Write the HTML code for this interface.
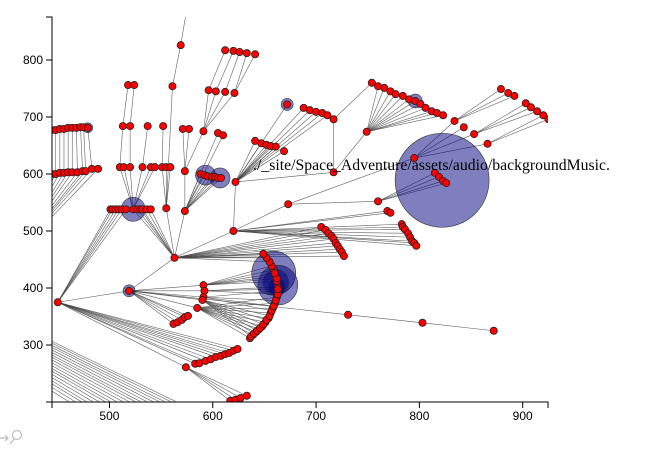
<!DOCTYPE html>
<html><head><meta charset="utf-8"><style>
html,body{margin:0;padding:0;background:#fff;}
svg{display:block;font-family:"Liberation Sans",sans-serif;}
</style></head><body>
<svg id="chart" width="651" height="450" viewBox="0 0 651 450" xmlns="http://www.w3.org/2000/svg">
<defs><clipPath id="plotclip"><rect x="52" y="17" width="496" height="385"/></clipPath></defs>
<g id="plot" clip-path="url(#plotclip)">
<g id="edges"></g>
<g id="bubbles"></g>
<g id="nodes"></g>
</g>
<g id="xaxis"></g>
<g id="yaxis"></g>
<text x="253" y="170" font-family="Liberation Serif, serif" font-size="16" textLength="357" lengthAdjust="spacingAndGlyphs" fill="#000">./_site/Space_Adventure/assets/audio/backgroundMusic.</text>
<g fill="none" stroke="#bbb" stroke-width="1.2">
<path d="M0 438 H8 M5 435 L8 438 L5 441"/>
<circle cx="17" cy="435" r="4.5"/><path d="M14 439 L10 444"/>
</g>
</svg>
<script>
// node data: x value, y value, parent index
const nodeX = [450,519,563,620,622,673,717,717,749,760,795,815,819,823,826,769,772,
754,760,766,772,777,784,790,796,801,806,812,817,823,
834,843,853,866,879,886,892,903,908,914,920,925,
641,647,652,656,661,669,672,688,694,700,706,711,
501,503,506,509,512,516,523,527,530,532,536,540,555,573,
510,514,520,532,540,544,551,555,559,573,
513,520,537,552,571,577,518,524,561,569,578,
591,596,603,612,621,612,620,626,633,641,605,610,
588,592,595,599,602,605,608,
404,
444,448,452,456,460,464,469,474,477,483,489,
444,448,452,456,460,464,468,472,475,479,
591,592,591,590,585,562,566,570,573,576,731,803,872,
574,617,622,627,633,
583,587,593,598,603,608,612,616,620,624,
636,639,642,645,648,651,654,656,658,660,662,663,663,662,661,659,657,655,652,649,
705,709,712,715,717,719,721,723,725,727,
783,784,786,789,791,793,795,797,
104,
520,527,534,540,547,554,561,567,574,581,588,595,601,608,615,622,628,635,641,
637,640,643,646,649,652,655,657,659,661,663,663,662,660];
const nodeY = [375,395,453,500,586,547,603,696,674,552,628,602,595,588,584,535,532,
760,754,751,745,740,737,731,728,723,716,710,707,703,
693,682,670,653,749,742,737,724,717,710,703,696,
658,654,651,649,648,640,722,716,712,709,707,703,
538,538,538,538,538,538,538,538,538,538,538,538,540,535,
612,612,612,612,612,612,612,612,612,605,
684,684,684,684,679,679,756,756,754,826,923,
675,747,745,744,742,817,816,814,812,810,672,668,
600,598,596,595,595,593,593,
449,
600,600,602,602,603,603,603,605,605,609,609,
677,677,679,679,681,681,681,682,682,681,
405,395,384,379,365,337,340,344,349,351,353,339,325,
261,202,204,207,211,
267,268,272,275,279,281,284,286,290,293,
312,318,323,328,333,340,347,356,364,373,384,395,402,412,421,432,439,446,453,460,
507,502,496,491,486,479,474,468,463,456,
512,507,503,496,489,482,479,474,
607,
133,133,133,133,133,133,133,133,133,133,133,133,133,133,133,133,133,133,133,
315,320,325,330,336,344,351,360,368,378,389,398,417,426];
const nodeParent = [-1,0,1,2,3,3,4,6,6,5,5,9,9,9,9,3,3,
7,8,8,8,8,8,8,8,8,8,8,8,8,
10,10,10,10,30,30,30,32,32,32,33,33,
4,4,4,4,4,4,4,4,4,4,4,4,
0,0,0,0,0,0,2,2,2,2,2,2,2,2,
60,60,60,60,60,60,66,66,66,67,
68,70,71,74,77,77,78,79,66,86,87,
77,89,89,89,89,90,91,92,93,93,67,67,
67,67,67,67,67,67,67,
-1,
108,108,108,108,108,108,108,108,108,108,108,
109,110,111,112,113,114,115,116,117,118,
1,1,1,1,1,1,1,1,1,1,1,140,141,
0,143,143,143,143,
0,0,0,0,0,0,0,0,0,0,
134,134,134,134,134,134,134,134,134,134,134,132,131,130,130,130,130,2,2,2,
2,2,2,2,2,2,2,2,2,2,
3,3,3,3,3,3,3,3,
-1,
196,196,196,196,196,196,196,196,196,196,196,196,196,196,196,196,196,196,196,
133,133,133,133,133,133,133,132,132,132,131,131,130,130];
const hiddenNodes = [108,196];
// bubble data: x value, y value, radius (px)
const bubbleX = [822,659,663,593,607,523,519,672,796,479,661,662];
const bubbleY = [589,426,405,598,593,538,395,722,728,681,410,402];
const bubbleR = [47,22,20,10,10,12,6,6,7,5,13,9];
// axis ticks
const xTicks = [500,600,700,800,900];
const yTicks = [300,400,500,600,700,800];

const xMin=444.4, xMax=924.5, yMin=200, yMax=875.4;
const L=52,R=548,T=17,B=402;
function sx(v){return L+(v-xMin)/(xMax-xMin)*(R-L);}
function sy(v){return B-(v-yMin)/(yMax-yMin)*(B-T);}
const NS="http://www.w3.org/2000/svg";
function mk(tag,parent){const e=document.createElementNS(NS,tag);parent.appendChild(e);return e;}

const gE=document.getElementById('edges');
for(let i=0;i<nodeX.length;i++){
  const p=nodeParent[i]; if(p<0) continue;
  const ln=mk('line',gE);
  
  
  ln.setAttribute('x1',sx(nodeX[p]));ln.setAttribute('y1',sy(nodeY[p]));
  ln.setAttribute('x2',sx(nodeX[i]));ln.setAttribute('y2',sy(nodeY[i]));
  ln.setAttribute('stroke','#444');ln.setAttribute('stroke-width','0.6');ln.setAttribute('stroke-opacity','0.85');
}
const gB=document.getElementById('bubbles');
for(let i=0;i<bubbleX.length;i++){
  const c=mk('circle',gB);
  
  
  c.setAttribute('cx',sx(bubbleX[i]));c.setAttribute('cy',sy(bubbleY[i]));c.setAttribute('r',bubbleR[i]);
  c.setAttribute('fill','rgba(0,0,128,0.5)');c.setAttribute('stroke','#333');c.setAttribute('stroke-width','0.6');
}
const gN=document.getElementById('nodes');
for(let i=0;i<nodeX.length;i++){
  if(hiddenNodes.indexOf(i)>=0) continue;
  const c=mk('circle',gN);
  
  
  c.setAttribute('cx',sx(nodeX[i]));c.setAttribute('cy',sy(nodeY[i]));c.setAttribute('r','3.6');
  c.setAttribute('fill','#f00');c.setAttribute('stroke','#222');c.setAttribute('stroke-width','0.8');
}
const gX=document.getElementById('xaxis');
let d=mk('path',gX);


d.setAttribute('d','M'+L+' '+(B+6)+'V'+B+'H'+R+'V'+(B+6));d.setAttribute('fill','none');d.setAttribute('stroke','#000');
xTicks.forEach(t=>{
  const x=sx(t);
  const tk=mk('line',gX);
  
  
  tk.setAttribute('x1',x);tk.setAttribute('x2',x);tk.setAttribute('y1',B);tk.setAttribute('y2',B+6);tk.setAttribute('stroke','#000');
  const tx=mk('text',gX);
  
  
  tx.setAttribute('x',x);tx.setAttribute('y',B+18);tx.setAttribute('text-anchor','middle');tx.setAttribute('font-size','12');
  tx.textContent=t;
});
const gY=document.getElementById('yaxis');
d=mk('path',gY);


d.setAttribute('d','M'+(L-6)+' '+T+'H'+L+'V'+B+'H'+(L-6));d.setAttribute('fill','none');d.setAttribute('stroke','#000');
yTicks.forEach(t=>{
  const y=sy(t);
  const tk=mk('line',gY);
  
  
  tk.setAttribute('x1',L-6);tk.setAttribute('x2',L);tk.setAttribute('y1',y);tk.setAttribute('y2',y);tk.setAttribute('stroke','#000');
  const tx=mk('text',gY);
  
  
  tx.setAttribute('x',L-9);tx.setAttribute('y',y+4);tx.setAttribute('text-anchor','end');tx.setAttribute('font-size','12');
  tx.textContent=t;
});
</script>
</body></html>
